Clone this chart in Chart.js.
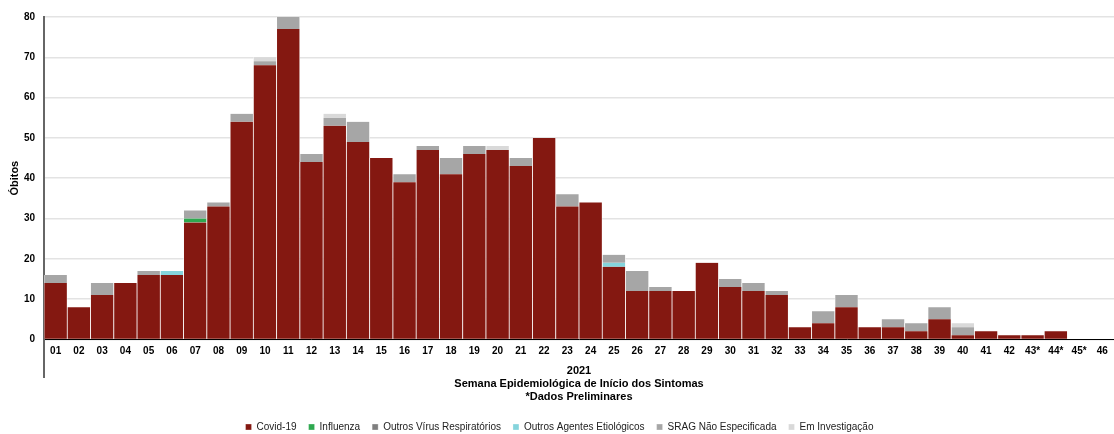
<!DOCTYPE html>
<html>
<head>
<meta charset="utf-8">
<script src="https://cdn.jsdelivr.net/npm/chart.js@4"></script>
<style>
  html, body { margin: 0; padding: 0; background: #fff; }
  #wrap { width: 1114px; height: 434px; position: relative; }
</style>
</head>
<body>
<div id="wrap"><canvas id="chart"></canvas></div>
<script>
const semanas = ["01","02","03","04","05","06","07","08","09","10","11","12","13","14","15","16","17","18","19","20","21","22","23","24","25","26","27","28","29","30","31","32","33","34","35","36","37","38","39","40","41","42","43*","44*","45*","46"];

const covid = [14,8,11,14,16,16,29,33,54,68,77,44,53,49,45,39,47,41,46,47,43,50,33,34,18,12,12,12,19,13,12,11,3,4,8,3,3,2,5,1,2,1,1,2,0,0];
const influenza = [0,0,0,0,0,0,1,0,0,0,0,0,0,0,0,0,0,0,0,0,0,0,0,0,0,0,0,0,0,0,0,0,0,0,0,0,0,0,0,0,0,0,0,0,0,0];
const outrosVirus = [0,0,0,0,0,0,0,0,0,0,0,0,0,0,0,0,0,0,0,0,0,0,0,0,0,0,0,0,0,0,0,0,0,0,0,0,0,0,0,0,0,0,0,0,0,0];
const outrosAgentes = [0,0,0,0,0,1,0,0,0,0,0,0,0,0,0,0,0,0,0,0,0,0,0,0,1,0,0,0,0,0,0,0,0,0,0,0,0,0,0,0,0,0,0,0,0,0];
const sragNaoEsp = [2,0,3,0,1,0,2,1,2,1,3,2,2,5,0,2,1,4,2,0,2,0,3,0,2,5,1,0,0,2,2,1,0,3,3,0,2,2,3,2,0,0,0,0,0,0];
const emInvestigacao = [0,0,0,0,0,0,0,0,0,1,0,0,1,0,0,0,0,0,0,1,0,0,0,0,0,0,0,0,0,0,0,0,0,0,0,0,0,0,0,1,0,0,0,0,0,0];

const yTicks = [0,10,20,30,40,50,60,70,80];

// linha vertical abaixo do eixo (separador do agrupamento "2021")
const axisExtra = {
  id: "axisExtra",
  afterDraw(chart) {
    const ctx = chart.ctx;
    const x = chart.chartArea.left;
    ctx.save();
    ctx.strokeStyle = "#666";
    ctx.lineWidth = 2;
    ctx.beginPath();
    ctx.moveTo(x, chart.chartArea.bottom);
    ctx.lineTo(x, 378);
    ctx.stroke();
    ctx.restore();
  }
};

function ds(label, data, color) {
  return {
    label: label,
    data: data,
    backgroundColor: color,
    borderColor: "rgba(255,255,255,0.8)",
    borderWidth: {left: 0.75, right: 0.75, top: 0, bottom: 0},
    borderSkipped: false,
    categoryPercentage: 1,
    barPercentage: 1,
  };
}

Chart.defaults.font.family = "Liberation Sans, Arial, sans-serif";
Chart.defaults.color = "#000";

new Chart(document.getElementById("chart"), {
  type: "bar",
  data: {
    labels: semanas,
    datasets: [
      ds("Covid-19", covid, "#841811"),
      ds("Influenza", influenza, "#2EA84F"),
      ds("Outros Vírus Respiratórios", outrosVirus, "#7F7F7F"),
      ds("Outros Agentes Etiológicos", outrosAgentes, "#85D4DC"),
      ds("SRAG Não Especificada", sragNaoEsp, "#A6A6A6"),
      ds("Em Investigação", emInvestigacao, "#D9D9D9"),
    ],
  },
  options: {
    responsive: true,
    maintainAspectRatio: false,
    animation: false,
    layout: {padding: {top: 17, right: 0, left: 5, bottom: -8}},
    plugins: {
      legend: {
        position: "bottom",
        labels: {
          boxWidth: 6,
          boxHeight: 6,
          padding: 12,
          font: {size: 10},
          color: "#222",
        },
      },
      tooltip: {enabled: false},
    },
    scales: {
      x: {
        stacked: true,
        grid: {display: false, drawTicks: false},
        border: {color: "#000", width: 1},
        ticks: {
          font: {size: 10, weight: "bold"},
          padding: 6,
          maxRotation: 0,
          autoSkip: false,
        },
        title: {
          display: true,
          text: ["2021", "Semana Epidemiológica de Início dos Sintomas", "*Dados Preliminares"],
          font: {size: 11, weight: "bold"},
          lineHeight: 1.2,
          padding: {top: 1, bottom: 6},
        },
      },
      y: {
        stacked: true,
        min: 0,
        max: 80,
        afterBuildTicks(axis) {
          axis.ticks = yTicks.map(v => ({value: v}));
        },
        afterFit(axis) {
          axis.width = 39;
        },
        grid: {color: "#E3E3E3", lineWidth: 1.5, drawTicks: false},
        border: {color: "#666", width: 2},
        ticks: {
          font: {size: 10, weight: "bold"},
          padding: 9,
        },
        title: {
          display: true,
          text: "Óbitos",
          font: {size: 11, weight: "bold"},
          padding: {top: 3, bottom: 4},
        },
      },
    },
  },
  plugins: [axisExtra],
});
</script>
</body>
</html>
